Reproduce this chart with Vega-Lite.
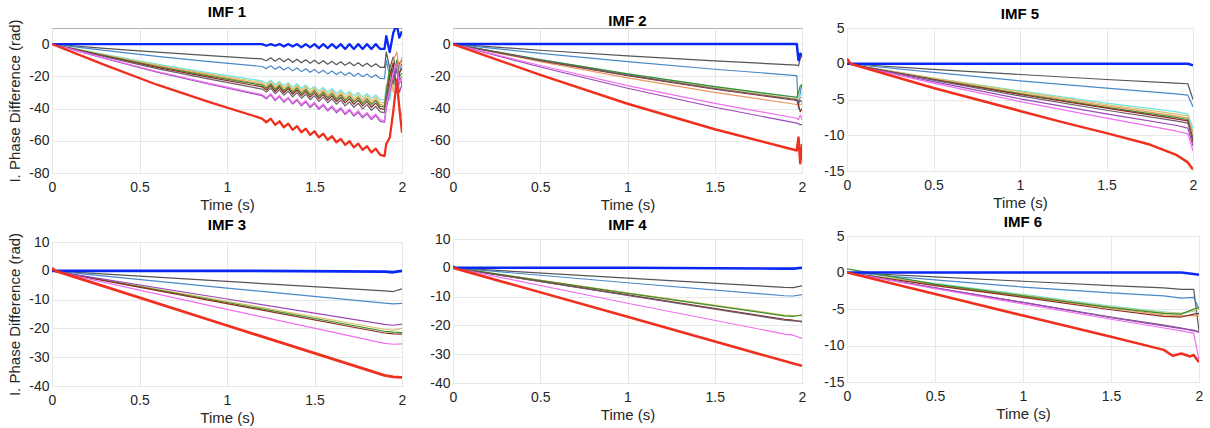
{
"$schema":"https://vega.github.io/schema/vega-lite/v6.json",
"background":"white",
"padding":{"left":7,"top":4,"right":2,"bottom":2},
"config":{
 "font":"Liberation Sans",
 "view":{"stroke":"#b0b0b0","strokeWidth":1},
 "axis":{"labelFontSize":14,"titleFontSize":15,"labelColor":"#262626","titleColor":"#262626","titleFontWeight":"normal","gridColor":"#e8e8e8","gridWidth":1,"domain":false,"ticks":false,"labelPadding":3,"labelOverlap":false,"labelFlush":false,"labelExpr":"toString(datum.value)"},
 "axisY":{"titlePadding":6},
 "axisX":{"titlePadding":3,"labelPadding":7},
 "title":{"fontSize":15,"fontWeight":"bold","color":"#000000","offset":-1,"anchor":"middle"}
},
"datasets":{
"imf1":[
{"t":0,"B":0,"K":0,"S":0,"C":0,"Y":0,"O":0,"G":0,"N":0,"D":0,"P":0,"M":0,"R":0},
{"t":0.3,"B":0,"K":-2.6,"S":-3.9,"C":-6.4,"Y":-6.7,"O":-6.9,"G":-7.1,"N":-7.4,"D":-7.8,"P":-8.9,"M":-8.7,"R":-12.9},
{"t":0.6,"B":0,"K":-5.0,"S":-7.6,"C":-12.4,"Y":-13.0,"O":-13.5,"G":-13.9,"N":-14.4,"D":-15.2,"P":-17.4,"M":-17.0,"R":-25.2},
{"t":0.9,"B":0,"K":-7.2,"S":-10.9,"C":-17.8,"Y":-18.6,"O":-19.3,"G":-19.9,"N":-20.7,"D":-21.7,"P":-24.9,"M":-24.4,"R":-36.0},
{"t":1.2,"B":0,"K":-9.2,"S":-13.9,"C":-22.8,"Y":-23.8,"O":-24.8,"G":-25.5,"N":-26.5,"D":-27.9,"P":-32.0,"M":-31.3,"R":-46.2},
{"t":1.225,"B":-1,"K":-10.3,"S":-15.2,"C":-24.4,"Y":-25.7,"O":-26.7,"G":-27.4,"N":-28.5,"D":-29.8,"P":-34.0,"M":-33.3,"R":-48.5},
{"t":1.25,"B":0,"K":-8.5,"S":-13.4,"C":-22.4,"Y":-23.1,"O":-24.2,"G":-24.9,"N":-25.9,"D":-27.3,"P":-31.5,"M":-30.8,"R":-46.3},
{"t":1.275,"B":-1,"K":-10.6,"S":-15.6,"C":-25.1,"Y":-26.5,"O":-27.6,"G":-28.3,"N":-29.4,"D":-30.8,"P":-35.1,"M":-34.3,"R":-50.1},
{"t":1.3,"B":0,"K":-8.8,"S":-13.9,"C":-23.1,"Y":-23.9,"O":-25.0,"G":-25.7,"N":-26.8,"D":-28.3,"P":-32.6,"M":-31.9,"R":-47.9},
{"t":1.325,"B":-1.5,"K":-11.0,"S":-16.1,"C":-25.9,"Y":-27.3,"O":-28.4,"G":-29.1,"N":-30.2,"D":-31.7,"P":-36.1,"M":-35.4,"R":-51.6},
{"t":1.35,"B":0,"K":-9.1,"S":-14.4,"C":-23.9,"Y":-24.7,"O":-25.8,"G":-26.6,"N":-27.7,"D":-29.2,"P":-33.7,"M":-33.0,"R":-49.4},
{"t":1.375,"B":-1.5,"K":-11.3,"S":-16.6,"C":-26.7,"Y":-28.1,"O":-29.2,"G":-30.0,"N":-31.1,"D":-32.7,"P":-37.2,"M":-36.5,"R":-53.2},
{"t":1.4,"B":0,"K":-9.4,"S":-14.8,"C":-24.6,"Y":-25.5,"O":-26.6,"G":-27.4,"N":-28.6,"D":-30.1,"P":-34.7,"M":-34.0,"R":-50.9},
{"t":1.425,"B":-2,"K":-11.6,"S":-17.1,"C":-27.4,"Y":-28.9,"O":-30.1,"G":-30.9,"N":-32.0,"D":-33.6,"P":-38.3,"M":-37.5,"R":-54.7},
{"t":1.45,"B":0,"K":-9.7,"S":-15.3,"C":-25.4,"Y":-26.3,"O":-27.5,"G":-28.3,"N":-29.5,"D":-31.1,"P":-35.8,"M":-35.0,"R":-52.5},
{"t":1.475,"B":-2,"K":-11.9,"S":-17.5,"C":-28.2,"Y":-29.7,"O":-30.9,"G":-31.7,"N":-32.9,"D":-34.5,"P":-39.4,"M":-38.6,"R":-56.3},
{"t":1.5,"B":0,"K":-10.0,"S":-15.7,"C":-26.2,"Y":-27.1,"O":-28.3,"G":-29.1,"N":-30.4,"D":-32.0,"P":-36.9,"M":-36.1,"R":-54.1},
{"t":1.525,"B":-2.5,"K":-12.2,"S":-18.0,"C":-29.0,"Y":-30.5,"O":-31.8,"G":-32.6,"N":-33.8,"D":-35.5,"P":-40.5,"M":-39.6,"R":-57.9},
{"t":1.55,"B":0,"K":-10.3,"S":-16.2,"C":-26.9,"Y":-27.9,"O":-29.2,"G":-30.0,"N":-31.3,"D":-32.9,"P":-38.0,"M":-37.1,"R":-55.6},
{"t":1.575,"B":-2.5,"K":-12.5,"S":-18.5,"C":-29.7,"Y":-31.3,"O":-32.6,"G":-33.4,"N":-34.7,"D":-36.4,"P":-41.5,"M":-40.7,"R":-59.4},
{"t":1.6,"B":0,"K":-10.7,"S":-16.7,"C":-27.7,"Y":-28.7,"O":-30.0,"G":-30.9,"N":-32.2,"D":-33.9,"P":-39.1,"M":-38.2,"R":-57.2},
{"t":1.625,"B":-2.5,"K":-12.8,"S":-18.9,"C":-30.5,"Y":-32.1,"O":-33.4,"G":-34.3,"N":-35.6,"D":-37.3,"P":-42.6,"M":-41.7,"R":-60.9},
{"t":1.65,"B":0,"K":-11.0,"S":-17.2,"C":-28.5,"Y":-29.5,"O":-30.8,"G":-31.7,"N":-33.1,"D":-34.8,"P":-40.1,"M":-39.3,"R":-58.8},
{"t":1.675,"B":-3,"K":-13.1,"S":-19.4,"C":-31.2,"Y":-32.9,"O":-34.2,"G":-35.1,"N":-36.5,"D":-38.3,"P":-43.7,"M":-42.8,"R":-62.5},
{"t":1.7,"B":0,"K":-11.3,"S":-17.6,"C":-29.3,"Y":-30.3,"O":-31.7,"G":-32.6,"N":-34.0,"D":-35.8,"P":-41.2,"M":-40.3,"R":-60.3},
{"t":1.725,"B":-3,"K":-13.4,"S":-19.9,"C":-32.0,"Y":-33.7,"O":-35.1,"G":-36.0,"N":-37.4,"D":-39.2,"P":-44.7,"M":-43.8,"R":-64.1},
{"t":1.75,"B":0,"K":-11.6,"S":-18.1,"C":-30.0,"Y":-31.1,"O":-32.5,"G":-33.4,"N":-34.8,"D":-36.7,"P":-42.3,"M":-41.3,"R":-61.8},
{"t":1.775,"B":-3,"K":-13.7,"S":-20.3,"C":-32.8,"Y":-34.5,"O":-35.9,"G":-36.9,"N":-38.3,"D":-40.2,"P":-45.8,"M":-44.9,"R":-65.6},
{"t":1.8,"B":0,"K":-11.9,"S":-18.6,"C":-30.8,"Y":-31.9,"O":-33.3,"G":-34.3,"N":-35.7,"D":-37.6,"P":-43.3,"M":-42.4,"R":-63.4},
{"t":1.825,"B":-3,"K":-14.0,"S":-20.8,"C":-33.6,"Y":-35.3,"O":-36.8,"G":-37.7,"N":-39.2,"D":-41.1,"P":-46.9,"M":-45.9,"R":-67.2},
{"t":1.85,"B":0,"K":-12.2,"S":-19.0,"C":-31.5,"Y":-32.7,"O":-34.2,"G":-35.1,"N":-36.6,"D":-38.6,"P":-44.4,"M":-43.4,"R":-64.9},
{"t":1.875,"B":-3,"K":-14.4,"S":-21.3,"C":-34.3,"Y":-36.1,"O":-37.6,"G":-38.6,"N":-40.1,"D":-42.1,"P":-48.0,"M":-47.0,"R":-68.8},
{"t":1.9,"B":-3,"K":-14.5,"S":-21.5,"C":-34.7,"Y":-36.5,"O":-38.0,"G":-39.0,"N":-40.5,"D":-42.5,"P":-48.5,"M":-47.5,"R":-69.5},
{"t":1.91,"B":5,"K":-5,"S":-10,"C":-25,"Y":-28,"O":-30,"G":-30,"N":-35,"D":-35,"P":-40,"M":-38,"R":-62},
{"t":1.93,"B":-5,"K":-15,"S":-20,"C":-35,"Y":-15,"O":-20,"G":-15,"N":-20,"D":-25,"P":-30,"M":-28,"R":-58},
{"t":1.95,"B":7,"K":-8,"S":-15,"C":-20,"Y":-30,"O":-10,"G":-25,"N":-12,"D":-15,"P":-20,"M":-18,"R":-42},
{"t":1.97,"B":12,"K":-18,"S":-25,"C":-30,"Y":-10,"O":-5,"G":-10,"N":-28,"D":-30,"P":-15,"M":-12,"R":-22},
{"t":1.985,"B":4,"K":-12,"S":-18,"C":-38,"Y":-22,"O":-15,"G":-20,"N":-18,"D":-20,"P":-30,"M":-25,"R":-40},
{"t":2,"B":8,"K":-10,"S":-12,"C":-45,"Y":-20,"O":-8,"G":-18,"N":-15,"D":-25,"P":-25,"M":-20,"R":-55}
],
"imf2":[
{"t":0,"B":0,"K":0,"S":0,"C":0,"Y":0,"G":0,"N":0,"D":0,"O":0,"M":0,"P":0,"R":0},
{"t":0.5,"B":0,"K":-3.8,"S":-5.7,"C":-9.6,"Y":-9.9,"G":-9.6,"N":-10.2,"D":-10.0,"O":-10.9,"M":-13.3,"P":-14.2,"R":-19.1},
{"t":1,"B":0,"K":-7.3,"S":-10.9,"C":-18.5,"Y":-19.0,"G":-18.5,"N":-19.6,"D":-19.3,"O":-21.0,"M":-25.8,"P":-27.4,"R":-37.0},
{"t":1.5,"B":0,"K":-10.4,"S":-15.6,"C":-26.4,"Y":-27.2,"G":-26.4,"N":-28.0,"D":-27.6,"O":-30.0,"M":-36.8,"P":-39.2,"R":-52.8},
{"t":1.97,"B":0,"K":-13,"S":-19.5,"C":-33,"Y":-34,"G":-33,"N":-35,"D":-34.5,"O":-37.5,"M":-46,"P":-49,"R":-66},
{"t":1.98,"B":-10,"K":-13.5,"S":-40,"C":-34,"Y":-34,"G":-30,"N":-38,"D":-36,"O":-38,"M":-47,"P":-49.5,"R":-58},
{"t":1.99,"B":-6,"K":-9,"S":-30,"G":-26,"N":-42,"D":-35,"O":-37.5,"M":-44,"P":-50,"R":-74},
{"t":2,"B":-7,"K":-7,"S":-25,"C":-30,"Y":-33,"G":-25,"N":-40,"D":-36,"O":-37,"M":-47,"P":-50,"R":-62}
],
"imf5":[
{"t":0,"B":0,"K":0,"S":0,"C":0,"Y":0,"O":0,"G":0,"N":0,"D":0,"P":0,"M":0,"R":0.7},
{"t":0.02,"R":0},
{"t":0.5,"B":0,"K":-0.8,"S":-1.2,"C":-2.0,"Y":-2.0,"O":-2.1,"G":-2.2,"N":-2.2,"D":-2.3,"P":-2.5,"M":-2.7,"R":-3.4},
{"t":1,"B":0,"K":-1.5,"S":-2.4,"C":-3.8,"Y":-3.9,"O":-4.1,"G":-4.2,"N":-4.3,"D":-4.5,"P":-4.9,"M":-5.3,"R":-6.6},
{"t":1.25,"R":-8.2},
{"t":1.5,"B":0,"K":-2.2,"S":-3.4,"C":-5.5,"Y":-5.7,"O":-5.9,"G":-6.1,"N":-6.2,"D":-6.5,"P":-7.0,"M":-7.6,"R":-9.7},
{"t":1.75,"R":-11.3},
{"t":1.9,"B":0,"K":-2.7,"S":-4.2,"C":-6.7,"Y":-7.0,"O":-7.3,"G":-7.5,"N":-7.7,"D":-8.0,"P":-8.6,"M":-9.4,"R":-12.7},
{"t":1.97,"B":0,"K":-2.8,"S":-4.4,"C":-7.0,"Y":-7.3,"O":-7.6,"G":-7.8,"N":-8.0,"D":-8.3,"P":-9.0,"M":-9.8,"R":-13.8},
{"t":2,"B":-0.2,"K":-5,"S":-6,"C":-9,"Y":-10,"O":-9.5,"G":-10.5,"N":-11,"D":-10.5,"P":-11.5,"M":-12.2,"R":-14.8}
],
"imf3":[
{"t":0,"B":0,"K":0,"S":0,"P":0,"Y":0,"G":0,"N":0,"M":0,"R":0.9},
{"t":0.02,"R":0},
{"t":1,"B":0,"K":-3.7,"S":-6.0,"P":-9.8,"Y":-10.6,"G":-11.0,"N":-11.4,"M":-13.4,"R":-19.0},
{"t":1.9,"B":-0.3,"K":-7.0,"S":-11.2,"P":-18.6,"Y":-20.3,"G":-21.0,"N":-21.6,"M":-25.2,"R":-36.3},
{"t":1.95,"B":-0.5,"K":-7.2,"S":-11.5,"P":-18.9,"Y":-20.6,"G":-21.3,"N":-21.9,"M":-25.5,"R":-36.8},
{"t":2,"B":0,"K":-6.3,"S":-11.3,"P":-18.5,"Y":-20.0,"G":-21.5,"N":-22.0,"M":-25.4,"R":-37.0}
],
"imf4":[
{"t":0,"B":0,"K":0,"S":0,"Y":0,"G":0.8,"N":0,"D":0,"M":0,"R":0},
{"t":0.02,"G":0},
{"t":1,"B":0,"K":-3.6,"S":-5.2,"Y":-8.7,"G":-8.9,"N":-9.4,"D":-9.6,"M":-12.3,"R":-17.0},
{"t":1.9,"B":-0.3,"K":-6.8,"S":-9.7,"Y":-16.4,"G":-16.7,"N":-17.9,"D":-18.2,"M":-23.0,"R":-32.4},
{"t":1.95,"B":-0.3,"K":-6.9,"S":-9.8,"Y":-16.6,"G":-16.9,"N":-18.2,"D":-18.4,"M":-23.4,"R":-33.2},
{"t":2,"B":0,"K":-6.3,"S":-9.3,"Y":-16.6,"G":-16.3,"N":-18.8,"D":-18.5,"M":-24.5,"R":-34.0}
],
"imf6":[
{"t":0,"B":0,"K":0,"S":0,"C":0,"Y":0,"G":0.5,"O":0,"N":0,"D":0,"P":0,"M":0,"R":0},
{"t":0.5,"B":0,"K":-0.6,"S":-1.0,"C":-1.5,"Y":-1.6,"G":-1.6,"O":-1.7,"N":-1.8,"D":-2.1,"P":-2.1,"M":-2.2,"R":-2.95},
{"t":1,"B":0,"K":-1.2,"S":-2.0,"C":-3.0,"Y":-3.1,"G":-3.2,"O":-3.3,"N":-3.4,"D":-4.1,"P":-4.1,"M":-4.3,"R":-5.9},
{"t":1.5,"B":0,"K":-1.8,"S":-2.8,"C":-4.6,"Y":-4.7,"G":-4.8,"O":-4.9,"N":-5.1,"D":-6.1,"P":-6.2,"M":-6.4,"R":-8.8},
{"t":1.8,"B":0,"K":-2.1,"S":-3.2,"C":-5.4,"Y":-5.5,"G":-5.6,"O":-5.8,"N":-6.0,"D":-7.2,"P":-7.3,"M":-7.6,"R":-10.6},
{"t":1.85,"R":-11.4},
{"t":1.9,"B":0,"K":-2.3,"S":-3.5,"C":-5.6,"Y":-5.6,"G":-5.7,"O":-5.9,"N":-6.1,"D":-7.6,"P":-7.7,"M":-8.0,"R":-11.1},
{"t":1.95,"R":-11.5},
{"t":1.97,"B":-0.2,"K":-2.3,"S":-3.4,"C":-5.3,"Y":-5.2,"G":-5.0,"O":-5.9,"N":-5.7,"D":-8.0,"P":-7.9,"M":-8.3,"R":-11.3},
{"t":2,"B":-0.3,"K":-8,"S":-5,"C":-5.8,"Y":-5.0,"G":-4.8,"O":-6.0,"N":-5.6,"D":-8.1,"P":-8.2,"M":-12.0,"R":-12.3}
]
},
"resolve":{"scale":{"x":"independent","y":"independent"}},
"spacing":16,
"hconcat":[
{"spacing":22,"resolve":{"scale":{"x":"independent","y":"independent"}},
 "hconcat":[
 {"spacing":4,"resolve":{"scale":{"x":"independent","y":"independent"}},
  "vconcat":[
  {"width":350,"height":145,"title":"IMF 1","data":{"name":"imf1"},
   "transform":[{"fold":["B","K","S","C","Y","O","G","N","D","P","M","R"],"as":["s","v"]},{"filter":"isValid(datum.v)"}],
   "encoding":{
    "x":{"field":"t","type":"quantitative","scale":{"domain":[0,2],"nice":false,"zero":false},"axis":{"values":[0,0.5,1,1.5,2],"title":"Time (s)"}},
    "y":{"field":"v","type":"quantitative","scale":{"domain":[-80,10],"nice":false,"zero":false},"axis":{"values":[-80,-60,-40,-20,0],"title":"I. Phase Difference (rad)"}},
    "color":{"field":"s","type":"nominal","legend":null,"scale":{"domain":["B","K","S","C","Y","O","G","N","D","P","M","R"],"range":["#0a28f5","#555555","#4a88c8","#6ee6ea","#d6c264","#e89a66","#3c8c2c","#8a2c1e","#6e5a6e","#9a48b8","#f06ef0","#f0301e"]}}
   },
   "layer":[
    {"transform":[{"filter":"datum.s!='B' && datum.s!='R'"}],"mark":{"type":"line","clip":true,"strokeWidth":1.2,"strokeJoin":"round"}},
    {"transform":[{"filter":"datum.s=='B' || datum.s=='R'"}],"mark":{"type":"line","clip":true,"strokeWidth":2.3,"strokeJoin":"round"}}
   ]},
  {"width":350,"height":144,"title":"IMF 3","data":{"name":"imf3"},
   "transform":[{"fold":["B","K","S","C","Y","O","G","N","D","P","M","R"],"as":["s","v"]},{"filter":"isValid(datum.v)"}],
   "encoding":{
    "x":{"field":"t","type":"quantitative","scale":{"domain":[0,2],"nice":false,"zero":false},"axis":{"values":[0,0.5,1,1.5,2],"title":"Time (s)"}},
    "y":{"field":"v","type":"quantitative","scale":{"domain":[-40,10],"nice":false,"zero":false},"axis":{"values":[-40,-30,-20,-10,0,10],"title":"I. Phase Difference (rad)"}},
    "color":{"field":"s","type":"nominal","legend":null,"scale":{"domain":["B","K","S","C","Y","O","G","N","D","P","M","R"],"range":["#0a28f5","#555555","#4a88c8","#6ee6ea","#c8c060","#e89a66","#3c8c2c","#8a2c1e","#6e5a6e","#8e5a90","#f06ef0","#f0301e"]}}
   },
   "layer":[
    {"transform":[{"filter":"datum.s!='B' && datum.s!='R'"}],"mark":{"type":"line","clip":true,"strokeWidth":1.2,"strokeJoin":"round"}},
    {"transform":[{"filter":"datum.s=='B' || datum.s=='R'"}],"mark":{"type":"line","clip":true,"strokeWidth":2.8,"strokeJoin":"round"}}
   ]}
  ]},
 {"spacing":4,"resolve":{"scale":{"x":"independent","y":"independent"}},
  "vconcat":[
  {"width":349,"height":145,"title":"IMF 2","data":{"name":"imf2"},
   "transform":[{"fold":["B","K","S","C","Y","O","G","N","D","P","M","R"],"as":["s","v"]},{"filter":"isValid(datum.v)"}],
   "encoding":{
    "x":{"field":"t","type":"quantitative","scale":{"domain":[0,2],"nice":false,"zero":false},"axis":{"values":[0,0.5,1,1.5,2],"title":"Time (s)"}},
    "y":{"field":"v","type":"quantitative","scale":{"domain":[-80,10],"nice":false,"zero":false},"axis":{"values":[-80,-60,-40,-20,0],"title":null}},
    "color":{"field":"s","type":"nominal","legend":null,"scale":{"domain":["B","K","S","C","Y","O","G","N","D","P","M","R"],"range":["#0a28f5","#555555","#4a88c8","#6ee6ea","#d6c264","#e89a66","#3c8c2c","#8a2c1e","#6e5a6e","#8a5a9a","#f06ef0","#f0301e"]}}
   },
   "layer":[
    {"transform":[{"filter":"datum.s!='B' && datum.s!='R'"}],"mark":{"type":"line","clip":true,"strokeWidth":1.2,"strokeJoin":"round"}},
    {"transform":[{"filter":"datum.s=='B' || datum.s=='R'"}],"mark":{"type":"line","clip":true,"strokeWidth":2.5,"strokeJoin":"round"}}
   ]},
  {"width":349,"height":144,"title":"IMF 4","data":{"name":"imf4"},
   "transform":[{"fold":["B","K","S","C","Y","O","G","N","D","P","M","R"],"as":["s","v"]},{"filter":"isValid(datum.v)"}],
   "encoding":{
    "x":{"field":"t","type":"quantitative","scale":{"domain":[0,2],"nice":false,"zero":false},"axis":{"values":[0,0.5,1,1.5,2],"title":"Time (s)"}},
    "y":{"field":"v","type":"quantitative","scale":{"domain":[-40,10],"nice":false,"zero":false},"axis":{"values":[-40,-30,-20,-10,0,10],"title":null}},
    "color":{"field":"s","type":"nominal","legend":null,"scale":{"domain":["B","K","S","C","Y","O","G","N","D","P","M","R"],"range":["#0a28f5","#555555","#4a88c8","#6ee6ea","#c8c060","#e89a66","#4a8c2c","#a05a5a","#7a6a6a","#9a48b8","#f06ef0","#f0301e"]}}
   },
   "layer":[
    {"transform":[{"filter":"datum.s!='B' && datum.s!='R'"}],"mark":{"type":"line","clip":true,"strokeWidth":1.2,"strokeJoin":"round"}},
    {"transform":[{"filter":"datum.s=='B' || datum.s=='R'"}],"mark":{"type":"line","clip":true,"strokeWidth":2.6,"strokeJoin":"round"}}
   ]}
  ]}
 ]},
{"spacing":3,"resolve":{"scale":{"x":"independent","y":"independent"}},
 "vconcat":[
  {"width":346,"height":143,"title":"IMF 5","data":{"name":"imf5"},
   "transform":[{"fold":["B","K","S","C","Y","O","G","N","D","P","M","R"],"as":["s","v"]},{"filter":"isValid(datum.v)"}],
   "encoding":{
    "x":{"field":"t","type":"quantitative","scale":{"domain":[0,2],"nice":false,"zero":false},"axis":{"values":[0,0.5,1,1.5,2],"title":"Time (s)"}},
    "y":{"field":"v","type":"quantitative","scale":{"domain":[-15,5],"nice":false,"zero":false},"axis":{"values":[-15,-10,-5,0,5],"title":null}},
    "color":{"field":"s","type":"nominal","legend":null,"scale":{"domain":["B","K","S","C","Y","O","G","N","D","P","M","R"],"range":["#0a28f5","#555555","#4a88c8","#6ee6ea","#d6c264","#e89a66","#3c8c2c","#8a2c1e","#6e5a6e","#9a60b0","#f06ef0","#f0301e"]}}
   },
   "layer":[
    {"transform":[{"filter":"datum.s!='B' && datum.s!='R'"}],"mark":{"type":"line","clip":true,"strokeWidth":1.2,"strokeJoin":"round"}},
    {"transform":[{"filter":"datum.s=='B' || datum.s=='R'"}],"mark":{"type":"line","clip":true,"strokeWidth":2.5,"strokeJoin":"round"}}
   ]},
  {"width":352,"height":146,"title":"IMF 6","data":{"name":"imf6"},
   "transform":[{"fold":["B","K","S","C","Y","O","G","N","D","P","M","R"],"as":["s","v"]},{"filter":"isValid(datum.v)"}],
   "encoding":{
    "x":{"field":"t","type":"quantitative","scale":{"domain":[0,2],"nice":false,"zero":false},"axis":{"values":[0,0.5,1,1.5,2],"title":"Time (s)"}},
    "y":{"field":"v","type":"quantitative","scale":{"domain":[-15,5],"nice":false,"zero":false},"axis":{"values":[-15,-10,-5,0,5],"title":null}},
    "color":{"field":"s","type":"nominal","legend":null,"scale":{"domain":["B","K","S","C","Y","O","G","N","D","P","M","R"],"range":["#0a28f5","#555555","#4a88c8","#6ee6ea","#d6c264","#e8a066","#3c8c2c","#a03a2a","#7a4a8a","#a050c0","#f06ef0","#f0301e"]}}
   },
   "layer":[
    {"transform":[{"filter":"datum.s!='B' && datum.s!='R'"}],"mark":{"type":"line","clip":true,"strokeWidth":1.2,"strokeJoin":"round"}},
    {"transform":[{"filter":"datum.s=='B' || datum.s=='R'"}],"mark":{"type":"line","clip":true,"strokeWidth":2.5,"strokeJoin":"round"}}
   ]}
 ]}
]
}
